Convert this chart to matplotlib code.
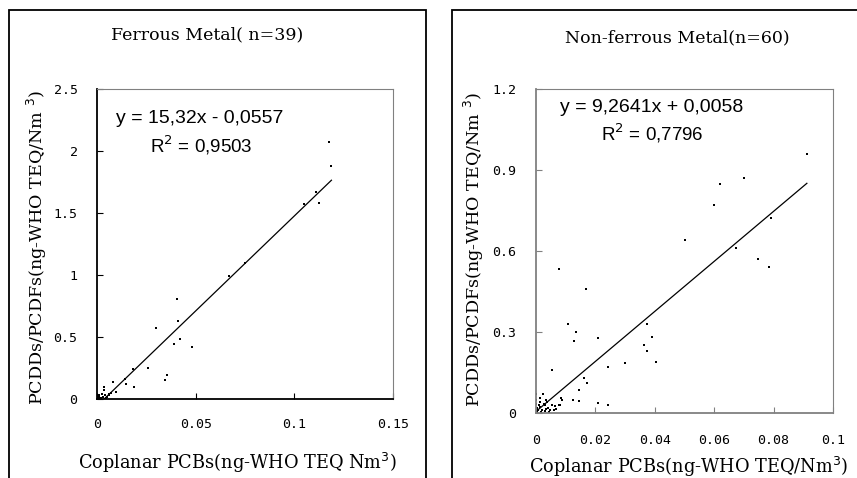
import matplotlib.pyplot as plt
from matplotlib.patches import Rectangle
import numpy as np

# ferrous metal (n=39)
fer_x = [0.1174, 0.1188, 0.1123, 0.1110, 0.1050, 0.0750, 0.0670, 0.0404, 0.0412, 0.0300,
         0.0388, 0.0422, 0.0480, 0.0260, 0.0180, 0.0148, 0.0190, 0.0354, 0.0343, 0.0079,
         0.0037, 0.0037, 0.0040, 0.0060, 0.0070, 0.0005, 0.0010, 0.0002, 0.0020, 0.0008,
         0.0030, 0.0015, 0.0045, 0.0050, 0.0025, 0.0062, 0.0140, 0.0095, 0.0003]
fer_y = [2.07, 1.88, 1.58, 1.67, 1.57, 1.10, 0.99, 0.81, 0.63, 0.57,
         0.44, 0.48, 0.42, 0.25, 0.24, 0.12, 0.10, 0.19, 0.155, 0.14,
         0.10, 0.07, 0.03, 0.04, 0.05, 0.01, 0.02, 0.005, 0.01, 0.03,
         0.02, 0.0, 0.01, 0.02, 0.04, 0.03, 0.16, 0.06, 0.0]
fer_slope, fer_icpt = 15.32, -0.0557

# non-ferrous metal (n=60)
nf_x = [0.0912, 0.0618, 0.0702, 0.0600, 0.0791, 0.0500, 0.0674, 0.0749, 0.0783, 0.0079,
        0.0169, 0.0107, 0.0135, 0.0129, 0.0210, 0.0375, 0.0392, 0.0362, 0.0373, 0.0403,
        0.0301, 0.0244, 0.0053, 0.0163, 0.0173, 0.0145, 0.0124, 0.0144, 0.0210, 0.0244,
        0.0084, 0.0064, 0.0076, 0.0000, 0.0000, 0.0000, 0.0023, 0.0014, 0.0012, 0.0030,
        0.0036, 0.0045, 0.0021, 0.0035, 0.0087, 0.0082, 0.0008, 0.0005, 0.0047, 0.0030,
        0.0018, 0.0010, 0.0060, 0.0040, 0.0026, 0.0015, 0.0055, 0.0068, 0.0002, 0.0033]
nf_y = [0.961, 0.850, 0.869, 0.769, 0.721, 0.641, 0.610, 0.570, 0.540, 0.532,
        0.458, 0.330, 0.300, 0.265, 0.277, 0.330, 0.283, 0.253, 0.228, 0.190,
        0.185, 0.172, 0.158, 0.129, 0.110, 0.086, 0.049, 0.043, 0.037, 0.031,
        0.055, 0.025, 0.031, 0.072, 0.047, 0.035, 0.069, 0.041, 0.022, 0.028,
        0.041, 0.004, 0.010, 0.016, 0.049, 0.028, 0.012, 0.005, 0.012, 0.006,
        0.002, 0.030, 0.010, 0.020, 0.035, 0.055, 0.030, 0.015, 0.018, 0.050]
nf_slope, nf_icpt = 9.2641, 0.0058

W, H = 857, 478
fig = plt.figure(figsize=(W / 100, H / 100), dpi=100)

# outer chart frames
for (x0, x1) in [(9, 426), (452, 870)]:
    fig.patches.append(Rectangle((x0 / W, -0.05), (x1 - x0) / W, 1 - 10 / H + 0.05,
                                 transform=fig.transFigure, fill=False,
                                 edgecolor='black', linewidth=1.3))

serif = 'DejaVu Serif'
mono = 'DejaVu Sans Mono'
sans = 'Liberation Sans'


def panel(rect, xs, ys, slope, icpt, xlim, xticks, ylim, yticks,
          eq, r2, eq_pos, r2_pos, axis_color, xpad):
    ax = fig.add_axes(rect)
    ax.scatter(xs, ys, s=3, color='black', marker='s', linewidths=0)
    lx = np.array([0, max(xs)])
    ax.plot(lx, slope * lx + icpt, color='black', linewidth=0.9)
    ax.set_xlim(*xlim)
    ax.set_ylim(*ylim)
    ax.set_xticks(xticks)
    ax.set_yticks(yticks)
    ax.set_xticklabels([f'{t:g}' for t in xticks], family=mono, fontsize=9.5)
    ax.set_yticklabels([f'{t:g}' for t in yticks], family=mono, fontsize=9.5)
    ax.tick_params(direction='in', length=4, color=axis_color)
    ax.tick_params(axis='x', pad=xpad)
    ax.tick_params(axis='y', pad=14)
    for s in ['top', 'right']:
        ax.spines[s].set_color('#808080')
    for s in ['left', 'bottom']:
        ax.spines[s].set_color(axis_color)
        ax.spines[s].set_linewidth(1.3)
    ax.text(eq_pos[0], eq_pos[1], eq, transform=ax.transAxes, ha='center', va='center',
            family=sans, fontsize=14)
    ax.text(r2_pos[0], r2_pos[1], r2, transform=ax.transAxes, ha='center', va='center',
            family=sans, fontsize=13.5)
    return ax


ax1 = panel([97 / W, 1 - 399 / H, 296 / W, 310 / H], fer_x, fer_y, fer_slope, fer_icpt,
            (0, 0.15), [0, 0.05, 0.1, 0.15], (0, 2.5), [0, 0.5, 1, 1.5, 2, 2.5],
            'y = 15,32x - 0,0557', 'R$^2$ = 0,9503', (0.348, 0.906), (0.351, 0.819),
            'black', 14)
ax2 = panel([536 / W, 1 - 413 / H, 297 / W, 324 / H], nf_x, nf_y, nf_slope, nf_icpt,
            (0, 0.1), [0, 0.02, 0.04, 0.06, 0.08, 0.1], (0, 1.2), [0, 0.3, 0.6, 0.9, 1.2],
            'y = 9,2641x + 0,0058', 'R$^2$ = 0,7796', (0.39, 0.944), (0.39, 0.864),
            '#808080', 15)

# titles and axis labels, placed in figure pixels
fig.text(207 / W, 1 - 35 / H, 'Ferrous Metal( n=39)', ha='center', va='center',
         family=serif, fontsize=12.5)
fig.text(677 / W, 1 - 38 / H, 'Non-ferrous Metal(n=60)', ha='center', va='center',
         family=serif, fontsize=12.5)
fig.text(37 / W, 1 - 248 / H, 'PCDDs/PCDFs(ng-WHO TEQ/Nm $^3$)', rotation=90,
         ha='center', va='center', family=serif, fontsize=12.6)
fig.text(474 / W, 1 - 250 / H, 'PCDDs/PCDFs(ng-WHO TEQ/Nm $^3$)', rotation=90,
         ha='center', va='center', family=serif, fontsize=12.6)
fig.text(237 / W, 1 - 463 / H, 'Coplanar PCBs(ng-WHO TEQ Nm$^3$)', ha='center',
         va='center', family=serif, fontsize=12.8)
fig.text(689 / W, 1 - 467 / H, 'Coplanar PCBs(ng-WHO TEQ/Nm$^3$)', ha='center',
         va='center', family=serif, fontsize=12.8)

fig.savefig('out.png', dpi=100)
